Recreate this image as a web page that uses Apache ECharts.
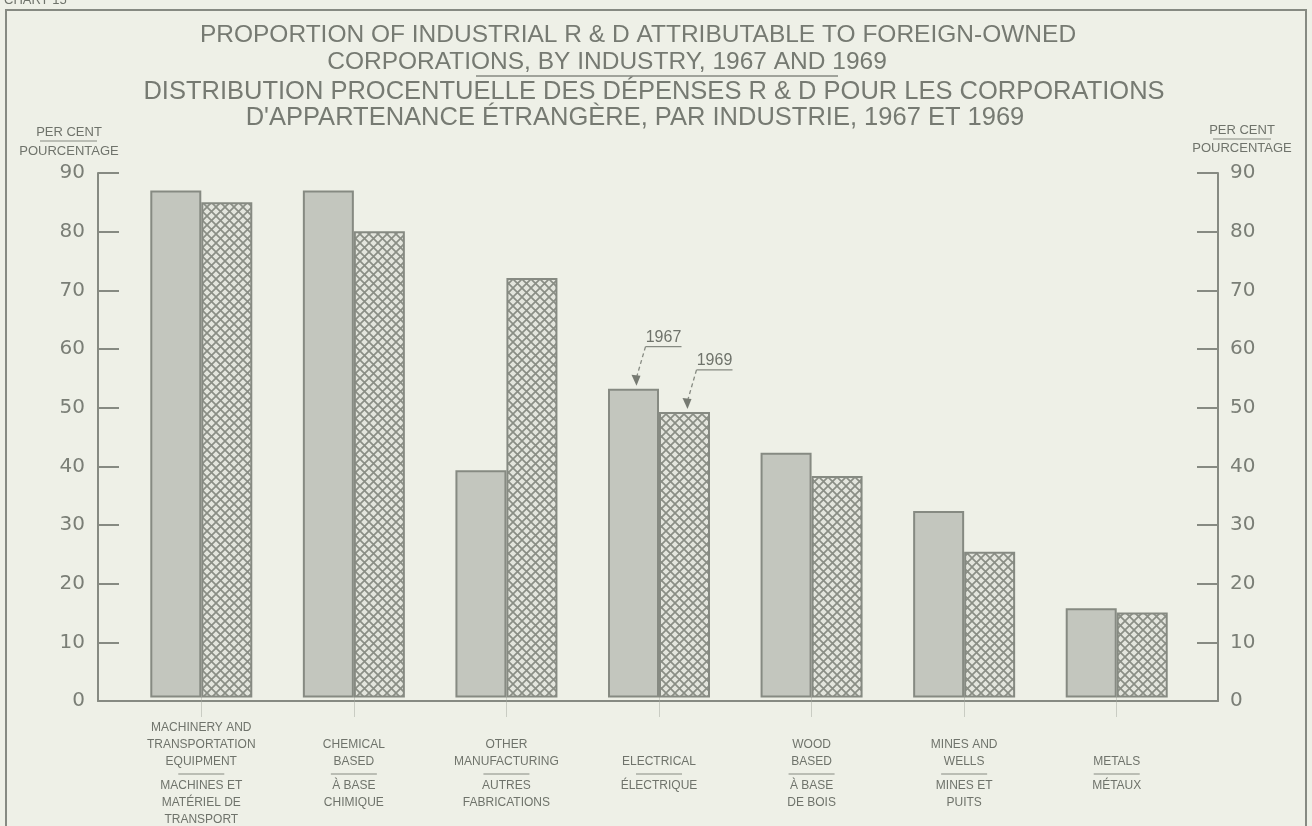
<!DOCTYPE html>
<html>
<head>
<meta charset="utf-8">
<script src="https://cdn.jsdelivr.net/npm/echarts@6/dist/echarts.min.js"></script>
<style>
    html, body {margin: 0; padding: 0; background: #eef0e7;}
    #chart {width: 1312px; height: 826px;}
</style>
</head>
<body>
<div id="chart"></div>
<script>
// industries, english lines above the rule, french lines below
const categoriesEn = [
    ['MACHINERY AND', 'TRANSPORTATION', 'EQUIPMENT'],
    ['CHEMICAL', 'BASED'],
    ['OTHER', 'MANUFACTURING'],
    ['ELECTRICAL'],
    ['WOOD', 'BASED'],
    ['MINES AND', 'WELLS'],
    ['METALS']
];
const categoriesFr = [
    ['MACHINES ET', 'MATÉRIEL DE', 'TRANSPORT'],
    ['À BASE', 'CHIMIQUE'],
    ['AUTRES', 'FABRICATIONS'],
    ['ÉLECTRIQUE'],
    ['À BASE', 'DE BOIS'],
    ['MINES ET', 'PUITS'],
    ['MÉTAUX']
];
const years = ['1967', '1969'];
const values1967 = [87, 87, 39, 53, 42, 32, 15.3];
const values1969 = [85, 80, 72, 49, 38, 25, 14.6];
const yMin = 0, yMax = 90, yStep = 10;

const titleEn = ['PROPORTION OF INDUSTRIAL R & D ATTRIBUTABLE TO FOREIGN-OWNED',
    'CORPORATIONS, BY INDUSTRY, 1967 AND 1969'];
const titleFr = ['DISTRIBUTION PROCENTUELLE DES DÉPENSES R & D POUR LES CORPORATIONS',
    "D'APPARTENANCE ÉTRANGÈRE, PAR INDUSTRIE, 1967 ET 1969"];
const unitEn = 'PER CENT';
const unitFr = 'POURCENTAGE';

const ink = '#6f736b';
const titleInk = '#767a72';
const lineInk = '#868a82';
const titleFont = '"Liberation Sans", Arial, sans-serif';
const smallFont = '"Liberation Sans Narrow", "Liberation Sans", Arial, sans-serif';
const BAR_W = 51;

function hatchPattern() {
    const s = 9;
    const c = document.createElement('canvas');
    c.width = s;
    c.height = s;
    const ctx = c.getContext('2d');
    ctx.fillStyle = '#e3e5dd';
    ctx.fillRect(0, 0, s, s);
    ctx.strokeStyle = '#8a8e85';
    ctx.lineWidth = 1.7;
    [-s, 0, s].forEach(k => {
        ctx.beginPath();
        ctx.moveTo(k, 0);
        ctx.lineTo(k + s, s);
        ctx.moveTo(k + s, 0);
        ctx.lineTo(k, s);
        ctx.stroke();
    });
    return c;
}

const chart = echarts.init(document.getElementById('chart'));

const labelFormatter = (value, idx) => {
    const en = categoriesEn[idx], fr = categoriesFr[idx];
    const lines = [];
    for (let i = en.length; i < 3; i++) lines.push('{en| }');
    en.forEach(t => lines.push('{en|' + t + '}'));
    lines.push('{rule| }');
    fr.forEach(t => lines.push('{en|' + t + '}'));
    return lines.join('\n');
};

const gridTop = 173, gridBottom = 125;

chart.setOption({
    backgroundColor: '#eef0e7',
    animation: false,
    grid: [
        {left: 125, right: 119, top: gridTop, bottom: gridBottom},
        {left: 98, right: 94, top: gridTop, bottom: gridBottom}
    ],
    xAxis: [{
        type: 'category',
        gridIndex: 0,
        data: categoriesEn.map(l => l.join(' ')),
        axisLine: {show: false},
        axisTick: {
            show: true, alignWithLabel: true, length: 20,
            lineStyle: {type: 'dotted', color: '#a4a79f', width: 1}
        },
        axisLabel: {
            interval: 0,
            margin: 22,
            formatter: labelFormatter,
            rich: {
                en: {fontFamily: smallFont, fontSize: 12, lineHeight: 17, color: ink},
                rule: {width: 46, height: 1, lineHeight: 7, fontSize: 1, backgroundColor: lineInk}
            }
        }
    }, {
        type: 'value',
        gridIndex: 1,
        min: 0, max: 1,
        axisLine: {show: true, lineStyle: {color: lineInk, width: 2}},
        axisTick: {show: false},
        axisLabel: {show: false},
        splitLine: {show: false}
    }],
    yAxis: [{
        type: 'value', gridIndex: 0, min: yMin, max: yMax, interval: yStep, show: false
    }, {
        type: 'value', gridIndex: 1, position: 'left',
        min: yMin, max: yMax, interval: yStep,
        axisLine: {show: true, lineStyle: {color: lineInk, width: 2}},
        axisTick: {show: true, inside: true, length: 21, lineStyle: {color: lineInk, width: 2}},
        axisLabel: {margin: 13, fontFamily: '"DejaVu Sans", sans-serif', fontSize: 20, color: '#7a7e76'},
        splitLine: {show: false}
    }, {
        type: 'value', gridIndex: 1, position: 'right',
        min: yMin, max: yMax, interval: yStep,
        axisLine: {show: true, lineStyle: {color: lineInk, width: 2}},
        axisTick: {show: true, inside: true, length: 21, lineStyle: {color: lineInk, width: 2}},
        axisLabel: {margin: 12, fontFamily: '"DejaVu Sans", sans-serif', fontSize: 20, color: '#7a7e76'},
        splitLine: {show: false}
    }],
    series: [{
        name: years[0],
        type: 'bar',
        xAxisIndex: 0, yAxisIndex: 0,
        data: values1967,
        barWidth: BAR_W,
        barGap: '0%',
        itemStyle: {color: '#c3c6be', borderColor: lineInk, borderWidth: 2}
    }, {
        name: years[1],
        type: 'bar',
        xAxisIndex: 0, yAxisIndex: 0,
        data: values1969,
        barWidth: BAR_W,
        barGap: '0%',
        itemStyle: {color: {image: hatchPattern(), repeat: 'repeat'}, borderColor: lineInk, borderWidth: 2}
    }]
});

// static decoration: frame, titles, unit names
const txt = (id, text, x, y, size, font, align, color) => ({
    type: 'text', id: id, silent: true,
    style: {
        text: text, x: x, y: y, fill: color || ink,
        font: size + 'px ' + (font || titleFont),
        textAlign: align || 'center', textVerticalAlign: 'middle'
    }
});
const ln = (id, x1, y1, x2, y2, w, dash) => ({
    type: 'line', id: id, silent: true,
    shape: {x1: x1, y1: y1, x2: x2, y2: y2},
    style: {stroke: lineInk, lineWidth: w || 1.5, lineDash: dash || null}
});

const graphics = [
    {type: 'rect', id: 'frame', silent: true, shape: {x: 6, y: 10, width: 1300, height: 830},
        style: {fill: null, stroke: lineInk, lineWidth: 2}},
    txt('chartno', 'CHART 15', 4, 0, 13, smallFont, 'left'),
    txt('t1', titleEn[0], 638, 35, 24.5, null, null, titleInk),
    txt('t2', titleEn[1], 607, 62, 24.5, null, null, titleInk),
    ln('t2u', 476, 76, 838, 76, 1.5),
    txt('t3', titleFr[0], 654, 92, 25.5, null, null, titleInk),
    txt('t4', titleFr[1], 635, 118, 25.5, null, null, titleInk),
    txt('ul1', unitEn, 69, 132, 13, smallFont),
    ln('ul1u', 40, 141, 97, 141, 1.2),
    txt('ul2', unitFr, 69, 151, 13, smallFont),
    txt('ur1', unitEn, 1242, 130, 13, smallFont),
    ln('ur1u', 1213, 139, 1271, 139, 1.2),
    txt('ur2', unitFr, 1242, 148, 13, smallFont)
];

// year call-outs pointing at the electrical bars
const calloutIdx = 3;
[values1967, values1969].forEach((vals, k) => {
    const p = chart.convertToPixel({gridIndex: 0}, [calloutIdx, vals[calloutIdx]]);
    const bx = p[0] + (k === 0 ? -BAR_W / 2 : BAR_W / 2);
    const top = p[1];
    const tip = [bx + 3, top - 3];
    const elbow = [bx + 12, top - 42];
    const end = [bx + 48, top - 42];
    graphics.push(ln('cl' + k, elbow[0], elbow[1], tip[0], tip[1] - 8, 1.3, [4, 3]));
    graphics.push(ln('cu' + k, elbow[0], elbow[1], end[0], end[1], 1.3));
    graphics.push({
        type: 'polygon', id: 'ca' + k, silent: true,
        shape: {points: [tip, [tip[0] - 5, tip[1] - 11], [tip[0] + 4, tip[1] - 10]]},
        style: {fill: '#767a72'}
    });
    graphics.push(txt('ct' + k, years[k], bx + 30, top - 51, 16, smallFont));
});

chart.setOption({graphic: graphics});
</script>
</body>
</html>
